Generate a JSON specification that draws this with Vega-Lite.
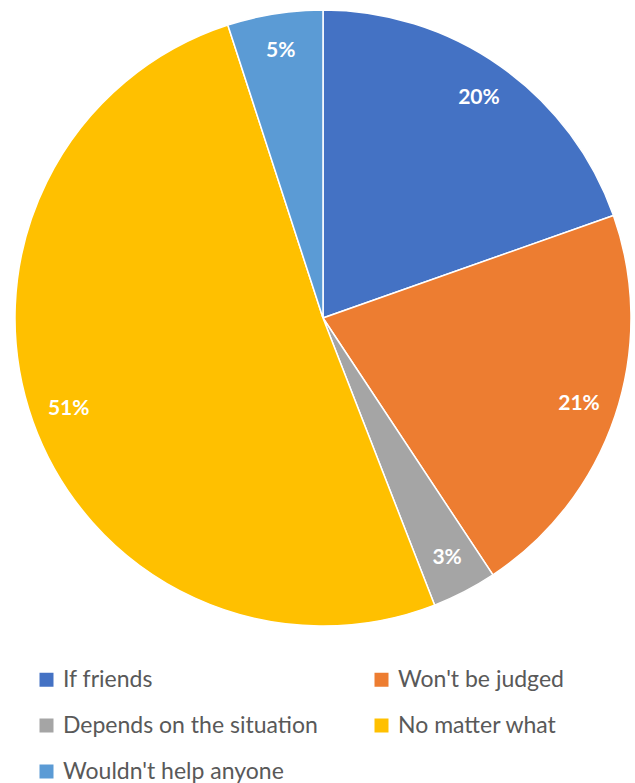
{
  "$schema": "https://vega.github.io/schema/vega-lite/v6.json",
  "width": 624,
  "height": 636,
  "padding": {"left": 11, "top": 0, "right": 0, "bottom": 0},
  "background": "white",
  "config": {"view": {"stroke": null}, "font": "Lato"},
  "data": {
    "values": [
      {"answer": "If friends", "share": 0.196, "order": 1},
      {"answer": "Won't be judged", "share": 0.211, "order": 2},
      {"answer": "Depends on the situation", "share": 0.034, "order": 3},
      {"answer": "No matter what", "share": 0.509, "order": 4},
      {"answer": "Wouldn't help anyone", "share": 0.05, "order": 5}
    ]
  },
  "encoding": {
    "theta": {"field": "share", "type": "quantitative", "stack": true},
    "order": {"field": "order", "type": "quantitative"}
  },
  "layer": [
    {
      "mark": {"type": "arc", "outerRadius": 308, "stroke": "white", "strokeWidth": 1.5},
      "encoding": {
        "color": {
          "field": "answer",
          "type": "nominal",
          "scale": {
            "domain": ["If friends", "Depends on the situation", "Wouldn't help anyone", "Won't be judged", "No matter what"],
            "range": ["#4472C4", "#A5A5A5", "#5B9BD5", "#ED7D31", "#FFC000"]
          },
          "legend": {
            "title": null,
            "orient": "none",
            "legendX": 24,
            "legendY": 668,
            "columns": 2,
            "symbolType": "square",
            "symbolSize": 196,
            "symbolStrokeWidth": 0,
            "labelFont": "Lato",
            "labelFontSize": 23,
            "labelColor": "#595959",
            "labelOffset": 5,
            "labelLimit": 400,
            "rowPadding": 22,
            "columnPadding": 52
          }
        }
      }
    },
    {
      "mark": {"type": "text", "radius": 270, "fontSize": 21, "fontWeight": "bold", "fill": "white", "font": "Lato"},
      "encoding": {
        "text": {"field": "share", "type": "quantitative", "format": ".0%"}
      }
    }
  ]
}
